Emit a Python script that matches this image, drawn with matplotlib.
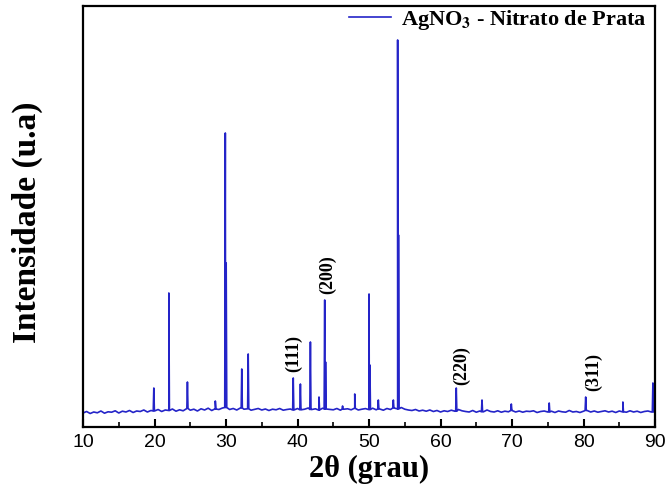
import matplotlib
matplotlib.use("Agg")
import matplotlib.pyplot as plt
from matplotlib.ticker import MultipleLocator

# ---- data ----
base_pos = [10 + 0.5 * i for i in range(161)]
base_val = [140, 155, 135, 150, 142, 160, 138, 152, 148, 162, 140, 158, 150, 165, 145, 160, 155, 170, 150, 165,
            160, 175, 155, 170, 165, 180, 158, 172, 162, 185, 168, 178, 160, 182, 170, 188, 165, 180, 175, 190,
            195, 175, 185, 170, 190, 178, 182, 168, 176, 185, 170, 180, 165, 178, 172, 185, 168, 175, 180, 170,
            185, 172, 178, 190, 175, 182, 170, 188, 180, 176, 172, 185, 168, 178, 182, 172, 186, 170, 178, 184,
            175, 188, 172, 180, 168, 185, 175, 190, 182, 195, 178, 170, 165, 175, 160, 168, 158, 170, 155, 165,
            150, 162, 155, 168, 158, 175, 162, 155, 150, 165, 148, 160, 152, 170, 155, 150, 162, 148, 158, 152,
            165, 150, 160, 148, 158, 155, 162, 145, 155, 160, 150, 158, 145, 160, 152, 148, 165, 150, 155, 145,
            158, 165, 150, 160, 148, 155, 162, 150, 158, 145, 160, 152, 148, 162, 150, 158, 145, 155, 160, 150,
            158]

peak_pos = [19.9, 22.0, 24.6, 28.5, 29.9, 30.02, 32.2, 33.1, 39.4, 40.4,
            41.8, 43.0, 43.8, 43.92, 46.3, 48.0, 50.0, 50.12, 51.3, 53.4,
            54.0, 54.12, 62.2, 65.8, 69.9, 75.2, 80.3, 85.5, 89.7]
peak_int = [390, 1340, 450, 260, 2940, 1640, 580, 730, 490, 430,
            850, 300, 1270, 650, 210, 330, 1330, 620, 270, 270,
            3870, 1920, 390, 270, 230, 240, 300, 250, 440]

hkl_labels = ["(111)", "(200)", "(220)", "(311)"]
hkl_pos = [39.4, 44.2, 63.0, 81.4]
hkl_y = [730, 1520, 615, 550]

series_label = r"AgNO$_{\mathbf{3}}$ - Nitrato de Prata"

# ---- build the profile from the listed points ----
pts = list(zip(base_pos, base_val))
for p, h in zip(peak_pos, peak_int):
    foot = base_val[int(round((p - 10) * 2))]
    pts += [(p - 0.08, foot), (p, h), (p + 0.08, foot)]
pts.sort(key=lambda t: t[0])
xs = [t[0] for t in pts]
ys = [t[1] for t in pts]

plt.rcParams["mathtext.fontset"] = "stix"

fig = plt.figure(figsize=(6.68, 4.86), dpi=100)
ax = fig.add_axes([0.1243, 0.1214, 0.8563, 0.8663])

ax.plot(xs, ys, color="#2424c8", lw=1.2, label=series_label)

ax.set_xlim(10, 90)
ax.set_ylim(0, 4210)
ax.set_yticks([])

ax.xaxis.set_major_locator(MultipleLocator(10))
ax.xaxis.set_minor_locator(MultipleLocator(5))
ax.tick_params(axis="x", which="major", direction="in", length=6, width=1.5,
               top=False, labelsize=14, pad=5)
ax.tick_params(axis="x", which="minor", direction="in", length=3.5, width=1.2,
               top=False)
for lab in ax.get_xticklabels():
    lab.set_fontfamily("Liberation Sans")

for s in ax.spines.values():
    s.set_linewidth(1.6)

ax.set_xlabel("2θ (grau)", fontsize=22, fontweight="bold",
              fontfamily="Liberation Serif", labelpad=3)
ax.set_ylabel("Intensidade (u.a)", fontsize=24, fontweight="bold",
              fontfamily="Liberation Serif")
ax.yaxis.set_label_coords(-0.070, 0.487)

for t, x, y in zip(hkl_labels, hkl_pos, hkl_y):
    ax.text(x, y, t, rotation=90, ha="center", va="center", fontsize=13,
            fontweight="bold", fontfamily="Liberation Serif")

leg = ax.legend(loc="upper right", bbox_to_anchor=(0.985, 0.995), frameon=False,
                borderaxespad=0, borderpad=0,
                prop={"family": "Liberation Serif", "weight": "bold", "size": 16},
                handlelength=1.9, handletextpad=0.45)

fig.savefig("out.png", dpi=100)
